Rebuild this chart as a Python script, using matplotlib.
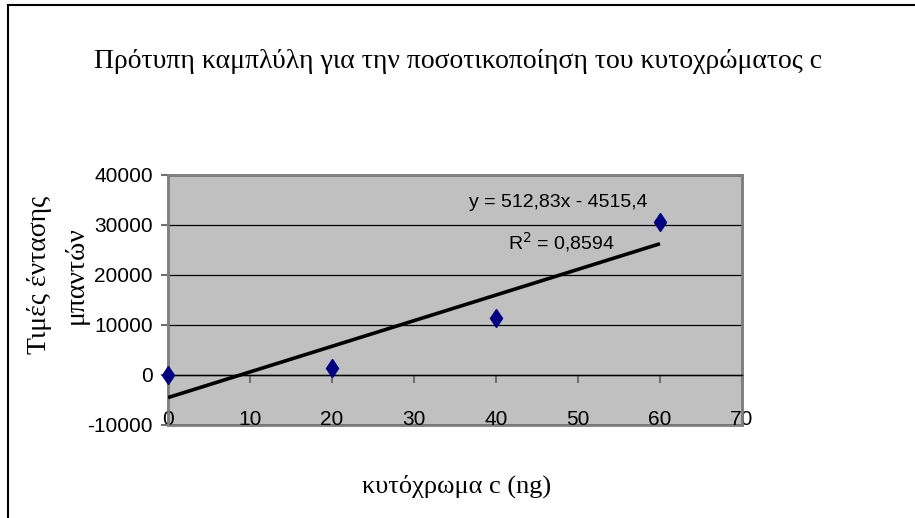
import matplotlib.pyplot as plt
from matplotlib.patches import Rectangle

# calibration points: amount of cytochrome c (ng) vs band intensity
amount_ng = [0, 20, 40, 60]
intensity = [0, 1480, 11340, 30700]

# linear trendline as reported on the chart
slope = 512.83
intercept = -4515.4
r_squared = 0.8594

x_ticks = [0, 10, 20, 30, 40, 50, 60, 70]
y_ticks = [-10000, 0, 10000, 20000, 30000, 40000]

serif = ['Liberation Serif', 'DejaVu Serif']
sans = ['Liberation Sans', 'DejaVu Sans']

fig = plt.figure(figsize=(9.15, 5.18), dpi=100)
ax = fig.add_axes([168/915, 93/518, 574/915, 250/518])

ax.set_facecolor('#c0c0c0')
ax.patch.set_edgecolor('#808080')
ax.patch.set_linewidth(2)

# x axis crosses at y = 0, labels sit at the bottom of the plot area
ax.spines['bottom'].set_position(('data', 0))
ax.spines['bottom'].set_color('black')
ax.spines['bottom'].set_linewidth(1.0)
for side in ['left', 'top', 'right']:
    ax.spines[side].set_color('#808080')
    ax.spines[side].set_linewidth(1.8)

# trendline drawn from the fitted coefficients
fit_x = [amount_ng[0], amount_ng[-1]]
fit_y = [slope * x + intercept for x in fit_x]
ax.plot(fit_x, fit_y, color='black', lw=2.6, zorder=3, solid_capstyle='butt')
ax.plot(amount_ng, intensity, linestyle='none', marker='d', ms=9.5,
        color='#000080', zorder=4, clip_on=False)

ax.set_xlim(0, 70)
ax.set_ylim(-10000, 40000)
ax.set_xticks(x_ticks)
ax.set_yticks(y_ticks)
ax.set_xticklabels([str(v) for v in x_ticks])
ax.set_yticklabels([str(v) for v in y_ticks])
ax.tick_params(axis='both', labelsize=15, labelfontfamily='Liberation Sans')
ax.tick_params(axis='x', direction='out', length=6, width=1.5, color='#707070', pad=19.5)
ax.tick_params(axis='y', direction='out', length=5, width=1.5, color='#707070', pad=6)

ax.grid(axis='y', color='black', lw=0.9, zorder=1)
ax.set_axisbelow(True)

ax.text(0.68, 0.89, f'y = {slope:.2f}x - {abs(intercept):.1f}'.replace('.', ','),
        transform=ax.transAxes, ha='center', va='center', fontsize=14, fontfamily=sans)
ax.text(0.685, 0.73, f'R$^2$ = {r_squared:.4f}'.replace('.', ','),
        transform=ax.transAxes, ha='center', va='center', fontsize=14, fontfamily=sans)

fig.text(458/915, 1 - 61/518, 'Πρότυπη καμπλύλη για την ποσοτικοποίηση του κυτοχρώματος c',
         ha='center', va='center', fontsize=20, fontfamily=serif)
fig.text(457/915, 1 - 486/518, 'κυτόχρωμα c (ng)',
         ha='center', va='center', fontsize=19, fontfamily=serif)
fig.text(58/915, 1 - 275/518, 'Τιμές έντασης\nμπαντών', rotation=90,
         ha='center', va='center', fontsize=20, fontfamily=serif, linespacing=1.6)

# chart frame
fig.patches.append(Rectangle((8/915, -0.2), 1.2, 1.2 - 5/518, transform=fig.transFigure,
                             fill=False, edgecolor='black', lw=1.5))

fig.savefig('out.png', dpi=100)
